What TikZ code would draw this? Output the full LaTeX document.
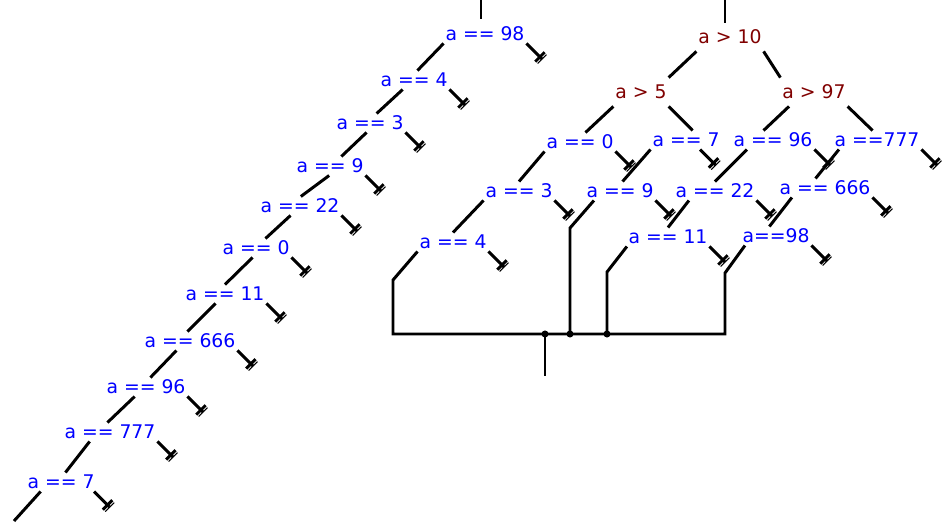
\documentclass[tikz,border=0pt]{standalone}
\usepackage{fontspec}
\setmainfont{DejaVu Sans}
\usetikzlibrary{arrows.meta}
\definecolor{cmpred}{RGB}{128,0,0}
\tikzset{
  chk/.style={text=blue,font=\fontsize{10.7}{12}\selectfont,text height=7.7pt,text depth=0pt,inner xsep=0.3pt,inner ysep=0.7pt},
  cmp/.style={chk,text=cmpred,inner ysep=3.5pt},
  gnd/.style={-{Bar[width=7.6pt,line width=1.7pt,sep=0.6pt]Bar[width=7.2pt,line width=0.6pt]}},
  every picture/.style={line width=1.7pt},
}
\begin{document}
\begin{tikzpicture}[x=0.02cm,y=-0.02cm]
\useasboundingbox (0,0) rectangle (944,524);
% chain of tests
\node[chk] (n98) at (485,34){a == 98}; \node[chk] (n4) at (414,80){a == 4};
\node[chk] (n3) at (370,123){a == 3}; \node[chk] (n9) at (330,166){a == 9};
\node[chk] (n22) at (300,206){a == 22}; \node[chk] (n0) at (256,248){a == 0};
\node[chk] (n11) at (225,294){a == 11}; \node[chk] (n666) at (190,341){a == 666};
\node[chk] (n96) at (146,387){a == 96}; \node[chk] (n777) at (110,432){a == 777};
\node[chk] (n7) at (61,482){a == 7};
\coordinate (in1) at (481,0); \coordinate (out1) at (14,521);
\draw[shorten >=3.4pt] (in1)--(in1|-n98.north);
\draw (n98.south west)--(n4.70); \draw (n4.220)--(n3.55); \draw (n3.250)--(n9.40);
\draw (n9.265)--(n22.85); \draw (n22.225)--(n0.45); \draw (n0.250)--(n11.north);
\draw (n11.225)--(n666.105); \draw (n666.215)--(n96.65); \draw (n96.220)--(n777.105);
\draw (n777.205)--(n7.65); \draw (n7.205)--(out1);
% search tree
\node[cmp] (t10) at (730,37){a > 10};
\node[cmp] (t5) at (641,92){a > 5}; \node[cmp] (t97) at (814,92){a > 97};
\node[chk] (e0) at (580,142){a == 0}; \node[chk] (e7) at (686,140){a == 7};
\node[chk] (e96) at (773,140){a == 96}; \node[chk] (e777) at (877,140){a ==777};
\node[chk] (e3) at (519,191){a == 3}; \node[chk] (e9) at (620,191){a == 9};
\node[chk] (e22) at (715,191){a == 22}; \node[chk] (e666) at (825,188){a == 666};
\node[chk] (e4) at (453,242){a == 4}; \node[chk] (e11) at (668,237){a == 11};
\node[chk] (e98) at (776,236){a==98};
\coordinate (in2) at (725,0);
\coordinate (k1) at (393,280); \coordinate (k2) at (570,228);
\coordinate (k3) at (607,272); \coordinate (k4) at (725,273);
\coordinate (hub) at (545,334); \coordinate (out2) at (545,376);
\draw (in2)--(in2|-t10.north);
\draw (t10.south west)--(t5.north east); \draw (t10.south east)--(t97.north west);
\draw (t5.south west)--(e0.60); \draw (t5.south east)--(e7.55);
\draw (t97.210)--(e96.135); \draw (t97.south east)--(e777.115);
\draw (e0.south west)--(e3.north); \draw (e7.south west)--(e9.75);
\draw (e96.200)--(e22.north); \draw (e777.194)--(e666.135);
\draw (e3.south west)--(e4.north); \draw (e22.200)--(e11.north); \draw (e666.196)--(e98.125);
% exits join
\draw (e4.south west)--(k1)|-(hub); \draw (e98.197)--(k4)|-(hub);
\draw (e9.200)--(k2)--(k2|-hub); \draw (e11.193)--(k3)--(k3|-hub);
\draw (hub)--(out2);
\foreach \p in {hub,k2,k3} \fill (\p|-hub) circle (2pt);
% leaves
\foreach \n/\a in {n98/south east,n4/south east,n3/south east,n9/south east,n22/south east,
  n0/south east,n11/south east,n666/south east,n96/south east,n777/south east,n7/344,
  e0/south east,e7/326,e96/south east,e777/south east,e3/south east,e9/south east,
  e22/south east,e666/south east,e4/south east,e11/south east,e98/south east}{
  \path (\n.\a) ++(16,16) coordinate (g\n);
  \draw[gnd] (\n.\a)--(g\n);
}
\end{tikzpicture}
\end{document}
